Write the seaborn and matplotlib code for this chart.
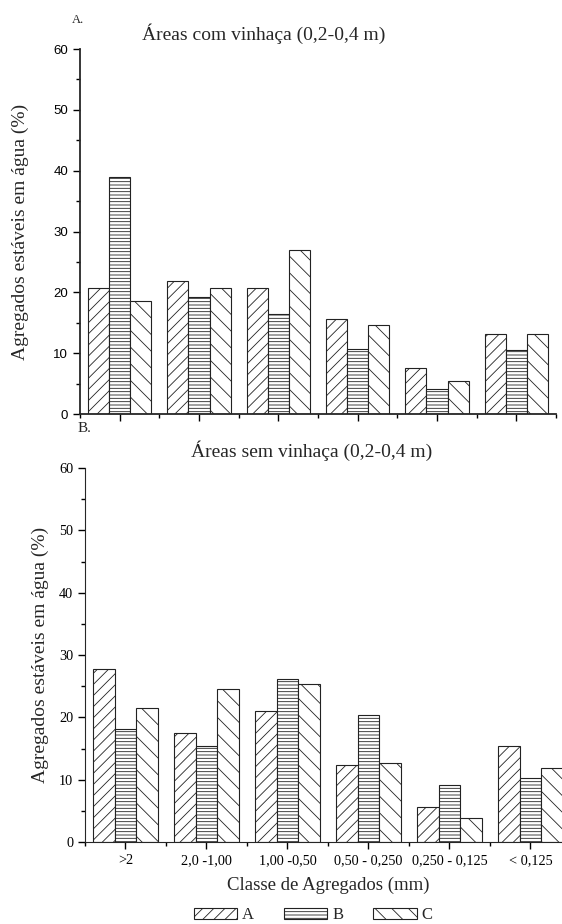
import numpy as np
import pandas as pd
import matplotlib
matplotlib.use("Agg")
import matplotlib.pyplot as plt
import seaborn as sns
from matplotlib.patches import Patch
from matplotlib.ticker import MultipleLocator

# data
classes = [">2", "2,0 -1,00", "1,00 -0,50", "0,50 - 0,250", "0,250 - 0,125", "< 0,125"]
groups = ["A", "B", "C"]
com_A = [20.7, 21.9, 20.8, 15.6, 7.6, 13.2]
com_B = [39.0, 19.3, 16.5, 10.7, 4.1, 10.5]
com_C = [18.65, 20.7, 27.0, 14.7, 5.5, 13.1]
sem_A = [27.8, 17.5, 21.1, 12.3, 5.7, 15.4]
sem_B = [18.2, 15.4, 26.2, 20.4, 9.2, 10.3]
sem_C = [21.5, 24.6, 25.3, 12.6, 3.8, 11.9]
hatches = ["///", "-----", "\\\\"]


def long_df(a, b, c):
    return pd.DataFrame({
        "classe": classes * 3,
        "grupo": ["A"] * 6 + ["B"] * 6 + ["C"] * 6,
        "valor": a + b + c,
    })


sns.set_style("ticks")
plt.rcParams["font.family"] = ["Liberation Serif", "DejaVu Serif"]
plt.rcParams["hatch.linewidth"] = 0.6
plt.rcParams["hatch.color"] = "black"

fig = plt.figure(figsize=(5.62, 9.24), dpi=100)
ax1 = fig.add_axes([0.1423, 0.5519, 0.847, 0.395])
ax2 = fig.add_axes([0.1512, 0.0887, 0.8648, 0.4048])

for ax, df in [(ax1, long_df(com_A, com_B, com_C)), (ax2, long_df(sem_A, sem_B, sem_C))]:
    sns.barplot(data=df, x="classe", y="valor", hue="grupo", order=classes,
                hue_order=groups, palette=["white"] * 3, edgecolor="#222222",
                linewidth=0.8, saturation=1, legend=False, ax=ax)
    for cont, h in zip(ax.containers, hatches):
        for bar in cont:
            bar.set_hatch(h)
    ax.set_xlim(-0.5, 5.5)
    ax.set_ylim(0, 60)
    ax.yaxis.set_major_locator(MultipleLocator(10))
    ax.yaxis.set_minor_locator(MultipleLocator(5))
    ax.set_xticks(np.arange(-0.5, 6, 1), minor=True)
    sns.despine(ax=ax)
    ax.tick_params(which="major", length=5, width=1, colors="black")
    ax.tick_params(which="minor", length=3, width=1, colors="black")
    ax.set_ylabel("Agregados estáveis em água (%)", fontsize=14)

# top panel
ax1.set_xlabel("")
ax1.set_xticklabels([])
for lab in ax1.get_yticklabels():
    lab.set_family(["Liberation Sans", "DejaVu Sans"])
    lab.set_fontsize(9.5)
for s in ax1.spines.values():
    s.set_linewidth(1.3)
ax1.yaxis.set_label_coords(-0.108, 0.5)
fig.text(0.469, 0.964, "Áreas com vinhaça (0,2-0,4 m)", fontsize=14, ha="center", va="center")
fig.text(0.128, 0.985, "A.", fontsize=9, va="top")

# bottom panel
ax2.set_xlabel("Classe de Agregados (mm)", fontsize=13.5, labelpad=7)
ax2.tick_params(axis="both", labelsize=10.3)
ax2.yaxis.set_label_coords(-0.075, 0.5)
fig.text(0.555, 0.512, "Áreas sem vinhaça (0,2-0,4 m)", fontsize=14, ha="center", va="center")
fig.text(0.138, 0.543, "B.", fontsize=11, va="top")

handles = [Patch(facecolor="white", edgecolor="#222222", hatch=h, linewidth=0.8) for h in hatches]
fig.legend(handles, groups, loc="center", bbox_to_anchor=(0.557, 0.0095), ncol=3,
           frameon=False, fontsize=12, handlelength=2.6, handleheight=0.66,
           columnspacing=1.8, handletextpad=0.3, borderpad=0)

fig.savefig("out.png", dpi=100)
